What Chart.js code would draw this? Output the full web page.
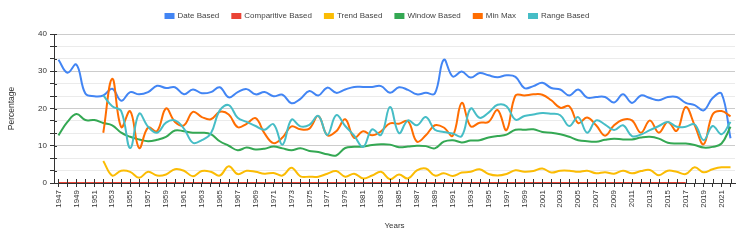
<!DOCTYPE html>
<html lang="en">
<head>
    <meta charset="UTF-8">
    <title>Percentage by Year</title>
    <script src="https://cdn.jsdelivr.net/npm/chart.js"></script>
    <style>
        body { margin: 0; background: #fff; }
        #wrap { width: 747px; height: 242px; }
    </style>
</head>
<body>
    <div id="wrap"><canvas id="chartPersen"></canvas></div>

    <script>
        const years = [
            "1947","1948","1949","1950","1951","1952","1953","1954","1955","1956",
            "1957","1958","1959","1960","1961","1962","1963","1964","1965","1966",
            "1967","1968","1969","1970","1971","1972","1973","1974","1975","1976",
            "1977","1978","1979","1980","1981","1982","1983","1984","1985","1986",
            "1987","1988","1989","1990","1991","1992","1993","1994","1995","1996",
            "1997","1998","1999","2000","2001","2002","2003","2004","2005","2006",
            "2007","2008","2009","2010","2011","2012","2013","2014","2015","2016",
            "2017","2018","2019","2020","2021","2022"
        ];

        const dateBased = [
            33.1, 29.6, 31.8, 24.0, 23.3, 23.5, 25.3, 22.1, 24.4, 23.8,
            24.4, 26.1, 25.5, 25.7, 23.8, 25.1, 24.1, 24.4, 25.7, 23.0,
            24.4, 25.2, 23.8, 24.4, 23.3, 23.7, 21.4, 22.6, 24.7, 23.5,
            25.6, 24.2, 25.1, 25.8, 25.8, 25.8, 26.0, 24.2, 25.7, 25.0,
            23.8, 24.2, 24.0, 33.1, 28.6, 29.9, 28.3, 29.5, 28.9, 28.4,
            28.9, 28.5, 25.5, 26.0, 26.9, 25.5, 25.1, 23.5, 25.1, 22.9,
            23.1, 23.1, 21.6, 23.8, 21.5, 23.5, 22.8, 22.2, 23.1, 23.1,
            21.5, 20.9, 19.5, 22.8, 24.0, 12.0
        ];

        const comparitiveBased = [
            0, 0, 0, 0, 0, 0, 0, 0, 0, 0,
            0, 0, 0, 0, 0, 0, 0, 0, 0, 0,
            0, 0, 0, 0, 0, 0, 0, 0, 0, 0,
            0, 0, 0, 0, 0, 0, 0, 0, 0, 0,
            0, 0, 0, 0, 0, 0, 0, 0, 0, 0,
            0, 0, 0, 0, 0, 0, 0, 0, 0, 0,
            0, 0, 0, 0, 0, 0, 0, 0, 0, 0,
            0, null, null, null, null, null
        ];

        const trendBased = [
            null, null, null, null, null, 5.9, 2.0, 3.3, 3.0, 1.4,
            3.0, 2.0, 2.3, 3.7, 3.3, 1.8, 3.2, 3.0, 2.0, 4.5,
            2.4, 3.3, 3.0, 2.5, 2.7, 2.0, 4.1, 1.8, 1.7, 1.7,
            2.5, 3.2, 1.7, 2.5, 1.2, 2.0, 3.0, 1.0, 2.3, 1.2,
            3.4, 3.9, 2.0, 2.6, 1.9, 2.8, 3.0, 3.7, 2.4, 2.0,
            2.4, 3.4, 3.0, 3.2, 3.9, 2.8, 3.3, 3.3, 3.0, 3.3,
            2.6, 2.9, 2.5, 3.3, 2.6, 3.2, 3.5, 2.1, 3.3, 3.0,
            2.4, 4.2, 2.9, 3.7, 4.2, 4.2
        ];

        const windowBased = [
            12.8, 16.4, 18.5, 16.9, 16.9, 16.1, 15.5, 13.5, 12.4, 11.7,
            11.2, 11.6, 12.4, 14.1, 13.9, 13.5, 13.5, 13.1, 11.2, 10.0,
            8.8, 9.5, 9.0, 9.2, 9.8, 9.3, 8.8, 9.3, 8.6, 8.3,
            7.7, 7.4, 9.4, 9.7, 9.8, 10.2, 10.4, 10.3, 9.6, 9.8,
            10.0, 9.9, 9.3, 11.1, 11.5, 10.9, 11.4, 11.5, 12.2, 12.6,
            13.0, 14.3, 14.3, 14.4, 13.7, 13.5, 13.1, 12.4, 11.5, 11.2,
            11.1, 11.6, 11.9, 11.7, 11.7, 12.2, 12.4, 11.9, 10.8, 10.6,
            10.6, 10.2, 9.5, 9.7, 10.6, 15.1
        ];

        const minMax = [
            null, null, null, null, null, 13.5, 28.0, 15.0, 19.3, 9.4,
            14.9, 13.9, 20.0, 16.4, 15.5, 19.1, 17.7, 17.1, 19.1, 18.4,
            15.0, 15.9, 17.4, 13.3, 10.7, 12.2, 15.2, 14.4, 14.6, 18.0,
            12.8, 13.9, 17.1, 12.1, 13.9, 12.8, 13.9, 16.0, 15.9, 16.6,
            11.1, 12.8, 15.5, 14.9, 12.7, 21.5, 15.2, 16.2, 16.4, 19.6,
            14.2, 23.5, 23.5, 23.8, 23.7, 22.2, 20.2, 20.6, 16.1, 17.6,
            15.5, 12.7, 15.5, 17.0, 16.8, 13.5, 16.8, 13.5, 16.4, 14.0,
            20.4, 15.5, 10.4, 18.4, 19.3, 17.9
        ];

        const rangeBased = [
            null, null, null, null, null, 23.5, 20.6, 19.3, 9.4, 18.6,
            15.1, 13.5, 16.2, 16.8, 14.6, 10.8, 11.5, 13.3, 19.5, 20.9,
            17.5, 16.4, 15.3, 14.3, 15.8, 10.3, 17.0, 15.2, 15.6, 18.0,
            12.9, 18.2, 15.3, 12.7, 9.7, 14.4, 12.9, 20.4, 13.4, 16.8,
            15.5, 17.7, 14.3, 13.7, 13.3, 12.6, 20.0, 17.5, 18.9, 21.0,
            20.6, 17.0, 18.0, 18.4, 18.8, 18.6, 18.2, 15.3, 17.7, 13.5,
            16.8, 15.7, 14.2, 15.5, 12.6, 13.0, 14.2, 15.3, 16.4, 15.1,
            15.1, 15.7, 11.5, 15.3, 13.1, 16.4
        ];

        const yMin = 0;
        const yMax = 40;

        function isMajor(v) {
            return Math.abs(v / 10 - Math.round(v / 10)) < 1e-6;
        }

        // urutan gambar: seri terakhir di atas, seperti grafik aslinya
        function seri(label, data, color, order) {
            return {
                label: label,
                data: data,
                borderColor: color,
                backgroundColor: color,
                borderWidth: 2,
                pointRadius: 0,
                pointHoverRadius: 0,
                tension: 0.4,
                fill: false,
                order: order
            };
        }

        // tanda tick yang menyilang sumbu, dan posisi legenda
        const tickSilang = {
            id: "tickSilang",
            afterLayout(chart) {
                if (chart.legend) {
                    chart.legend.left += 10;
                    chart.legend.right += 10;
                    chart.legend.top -= 4;
                    chart.legend.bottom -= 4;
                }
            },
            afterDraw(chart) {
                const ctx = chart.ctx;
                const x = chart.scales.x;
                const y = chart.scales.y;
                ctx.save();
                ctx.strokeStyle = "#333";
                ctx.lineWidth = 1;
                ctx.beginPath();
                x.ticks.forEach((t, i) => {
                    const px = Math.round(x.getPixelForTick(i)) + 0.5;
                    ctx.moveTo(px, x.top - 4);
                    ctx.lineTo(px, x.top);
                });
                y.ticks.forEach((t, i) => {
                    const py = Math.round(y.getPixelForTick(i)) + 0.5;
                    ctx.moveTo(y.right, py);
                    ctx.lineTo(y.right + 3, py);
                });
                ctx.stroke();
                ctx.restore();
            }
        };

        Chart.defaults.font.family = "Arial, 'Liberation Sans', sans-serif";
        Chart.defaults.font.size = 8;
        Chart.defaults.color = "#333";

        let ctx = document.getElementById("chartPersen").getContext("2d");
        let chart = new Chart(ctx, {
            type: "line",
            data: {
                labels: years,
                datasets: [
                    seri("Date Based", dateBased, "#4285f4", 6),
                    seri("Comparitive Based", comparitiveBased, "#ea4335", 5),
                    seri("Trend Based", trendBased, "#fbbc04", 4),
                    seri("Window Based", windowBased, "#34a853", 3),
                    seri("Min Max", minMax, "#ff6d01", 2),
                    seri("Range Based", rangeBased, "#46bdc6", 1)
                ]
            },
            options: {
                responsive: true,
                maintainAspectRatio: false,
                animation: false,
                layout: { padding: { top: 3, right: 12, bottom: 7, left: 0 } },
                plugins: {
                    legend: {
                        position: "top",
                        labels: {
                            boxWidth: 8,
                            boxHeight: 4,
                            padding: 13,
                            color: "#444",
                            font: { size: 8 },
                            sort: (a, b) => a.datasetIndex - b.datasetIndex
                        }
                    },
                    tooltip: { enabled: false }
                },
                scales: {
                    x: {
                        offset: true,
                        grid: {
                            offset: false,
                            drawOnChartArea: false,
                            drawTicks: true,
                            tickLength: 4,
                            tickColor: "#333"
                        },
                        border: { color: "#333", width: 1 },
                        ticks: {
                            autoSkip: false,
                            maxRotation: 90,
                            minRotation: 90,
                            padding: 3,
                            color: "#333",
                            font: { size: 8 },
                            callback: function (val, i) {
                                return i % 2 === 0 ? this.getLabelForValue(val) : "";
                            }
                        },
                        title: {
                            display: true,
                            text: "Years",
                            color: "#333",
                            font: { size: 8 },
                            padding: { top: 4, bottom: 4 }
                        },
                        afterFit: function (scale) { scale.height = 52; }
                    },
                    y: {
                        min: yMin,
                        max: yMax,
                        ticks: {
                            count: 13,
                            autoSkip: false,
                            padding: 3,
                            color: "#333",
                            font: { size: 8 },
                            callback: function (v) {
                                return isMajor(v) ? Math.round(v) : "";
                            }
                        },
                        grid: {
                            color: function (c) {
                                if (!c.tick) return "#ebebeb";
                                return isMajor(c.tick.value) ? "#cccccc" : "#ebebeb";
                            },
                            tickColor: "#333",
                            tickLength: 4
                        },
                        border: { color: "#333", width: 1 },
                        title: {
                            display: true,
                            text: "Percentage",
                            color: "#333",
                            font: { size: 8.5 },
                            padding: { top: 7, bottom: 4 }
                        },
                        afterFit: function (scale) { scale.width = 54; }
                    }
                }
            },
            plugins: [tickSilang]
        });
    </script>
</body>
</html>
